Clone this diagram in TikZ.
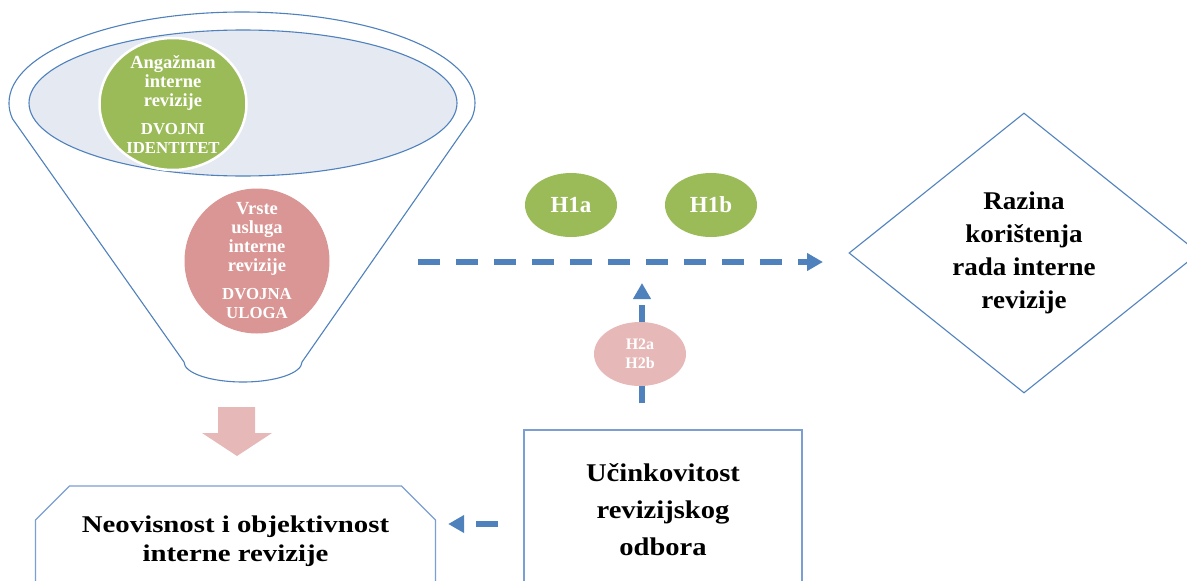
\documentclass[tikz,border=0pt]{standalone}
\usepackage{fontspec}
\setmainfont{Liberation Serif}
\newfontfamily\fneo{Liberation Serif}[FakeStretch=1.2]
\newfontfamily\fucin{Liberation Serif}[FakeStretch=1.12]
\newfontfamily\fraz{Liberation Serif}[FakeStretch=1.06]
\usetikzlibrary{shapes.geometric,shapes.misc,arrows.meta}
\definecolor{fblue}{HTML}{4F81BD}
\definecolor{bxblue}{HTML}{7B9ED3}
\definecolor{igray}{HTML}{E4E9F2}
\definecolor{cgreen}{HTML}{9BBB59}
\definecolor{cpink}{HTML}{D99694}
\definecolor{lpink}{HTML}{E6B9B8}
\newcommand{\capsline}[1]{{\fontsize{16.8}{19}\selectfont #1}}
\begin{document}
\begin{tikzpicture}[x=1pt,y=-1pt,
  dasharrow/.style={draw=fblue,line width=6.5pt,dash pattern=on 22pt off 16pt,-{Triangle[length=16pt,width=17pt]}},
  circtext/.style={text=white,font=\bfseries\fontsize{18.5}{19}\selectfont,align=center,inner sep=0pt},
  hyp/.style={ellipse,fill=cgreen,minimum width=92pt,minimum height=64pt,inner sep=0pt,text=white,font=\bfseries\fontsize{23}{24}\selectfont},
  hyptwo/.style={ellipse,fill=lpink,minimum width=92pt,minimum height=64pt,inner sep=0pt,text=white,align=center,font=\bfseries\fontsize{16}{18.5}\selectfont},
  boxline/.style={draw=bxblue,line width=1.3pt}
]
\useasboundingbox (0,0) rectangle (1187,581);
\clip (0,0) rectangle (1187,581);

% funnel
\draw[fblue,line width=1.1pt,fill=white]
  (9,103) arc[start angle=180,end angle=370,x radius=233,y radius=91]
  -- (302,362) arc[start angle=0,end angle=180,x radius=59,y radius=20]
  -- (12.5,118.8) arc[start angle=170,end angle=180,x radius=233,y radius=91] -- cycle;
\draw[fblue,line width=1.1pt,fill=igray] (243,103) ellipse[x radius=214,y radius=73];

\node[ellipse,fill=cgreen,draw=white,line width=2.5pt,minimum width=147pt,minimum height=132pt,inner sep=0pt] (ang) at (173,104) {};
\node[circtext] at (ang) {Angažman\\interne\\revizije\\[9pt]\capsline{DVOJNI}\\\capsline{IDENTITET}};

\node[ellipse,fill=cpink,minimum width=145pt,minimum height=145pt,inner sep=0pt] (vrs) at (257,261) {};
\node[circtext] at (vrs) {Vrste\\usluga\\interne\\revizije\\[9pt]\capsline{DVOJNA}\\\capsline{ULOGA}};

% pink block arrow
\fill[lpink] (218,407) -- (255,407) -- (255,433) -- (272,433) -- (237,456) -- (202,433) -- (218,433) -- cycle;

% boxes
\node[boxline,chamfered rectangle,chamfered rectangle corners={north west,north east},
  chamfered rectangle xsep=17pt,chamfered rectangle ysep=17pt,
  minimum width=400pt,minimum height=110pt,inner sep=0pt,align=center,
  font=\fneo\bfseries\fontsize{24}{29}\selectfont] (neo) at (235.5,541)
  {Neovisnost i objektivnost\\interne revizije};
\node[boxline,rectangle,minimum width=278pt,minimum height=160pt,inner sep=0pt,align=center,
  font=\fucin\bfseries\fontsize{25.5}{37}\selectfont] (ucin) at (663,510)
  {Učinkovitost\\revizijskog\\odbora};
\node[draw=fblue,line width=1.1pt,diamond,aspect=1.25,minimum width=350pt,minimum height=280pt,inner sep=0pt,align=center,
  font=\fraz\bfseries\fontsize{25.5}{33}\selectfont] (raz) at (1024,253)
  {Razina\\korištenja\\rada interne\\revizije};

% arrows
\coordinate (hs) at (418,262);
\coordinate (he) at (823,262);
\draw[dasharrow] (hs) -- (he);
\coordinate (vt) at (642,283);
\draw[dasharrow,shorten <=26pt] (vt |- ucin.north) -- (vt);
\draw[dasharrow,shorten <=25pt,shorten >=12pt] ([yshift=-14pt]ucin.west) -- ([yshift=17pt]neo.east);

% hypotheses
\node[hyp] (h1a) at (571,205) {H1a};
\node[hyp] (h1b) at (711,205) {H1b};
\node[hyptwo] (h2) at (640,354) {H2a\\H2b};
\end{tikzpicture}
\end{document}
